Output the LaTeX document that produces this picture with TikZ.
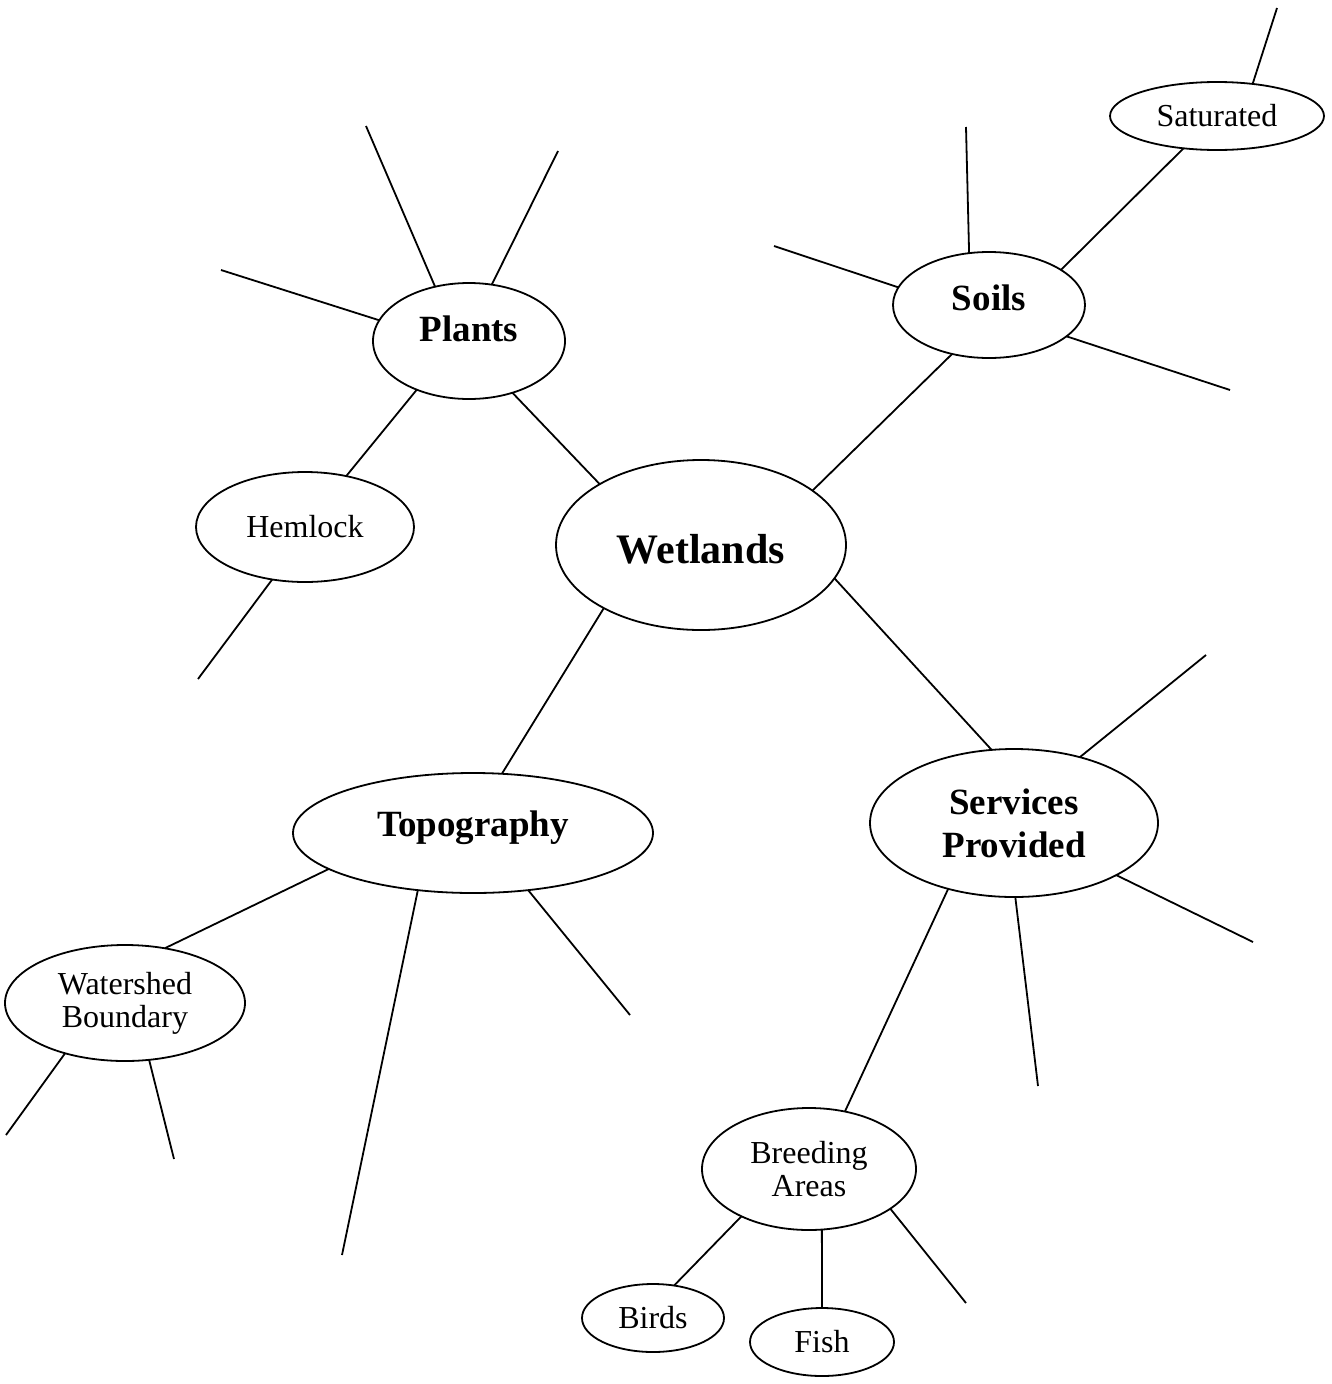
\documentclass[tikz,border=0pt]{standalone}
\usepackage{fontspec}
\setmainfont{Liberation Serif}
\usetikzlibrary{shapes.geometric}
\begin{document}
\begin{tikzpicture}[x=1pt,y=-1pt,
 bub/.style={draw, ellipse, line width=1.8pt, inner sep=0pt, outer sep=0pt, align=center},
 big/.style={bub, font=\fontsize{37}{43}\selectfont\bfseries},
 small/.style={bub, font=\fontsize{32}{33}\selectfont},
 con/.style={line width=1.8pt}]
\useasboundingbox (0,0) rectangle (1331,1384);
% nodes
\node[bub, font=\fontsize{42}{48}\selectfont\bfseries, minimum width=290pt, minimum height=170pt, text height=36pt, text depth=0pt] (wet) at (701,545) {Wetlands};
\node[big, minimum width=192pt, minimum height=116pt, text height=25pt, text depth=25pt] (plants) at (469,341) {Plants};
\node[big, minimum width=192pt, minimum height=106pt, text height=25pt, text depth=15pt] (soils) at (989,305) {Soils};
\node[small, minimum width=214pt, minimum height=68pt] (sat) at (1217,116) {Saturated};
\node[small, minimum width=218pt, minimum height=110pt] (hem) at (305,527) {Hemlock};
\node[big, minimum width=360pt, minimum height=120pt, text height=26pt, text depth=20pt] (topo) at (473,833) {Topography};
\node[big, minimum width=288pt, minimum height=148pt] (serv) at (1014,823) {Services\\Provided};
\node[small, minimum width=240pt, minimum height=116pt] (water) at (125,1003) {Watershed\\Boundary};
\node[small, minimum width=214pt, minimum height=122pt] (breed) at (809,1169) {Breeding\\Areas};
\node[small, minimum width=142pt, minimum height=68pt] (birds) at (653,1318) {Birds};
\node[small, minimum width=144pt, minimum height=68pt] (fish) at (822,1342) {Fish};
% connectors between nodes
\draw[con] (plants.-50) -- (wet.149);
\draw[con] (soils.-127) -- (wet.26);
\draw[con] (wet.213) -- (topo.64);
\draw[con] (wet.-14) -- (serv.107);
\draw[con] (plants.-137) -- (hem.51);
\draw[con] (soils.26) -- (sat.-136);
\draw[con] (topo.-166) -- (water.54);
\draw[con] (serv.-135) -- (breed.58);
\draw[con] (breed.-145) -- (birds.57);
\draw[con] (breed.-78) -- (fish.90);
% free ends
\coordinate (p1) at (366,126);
\coordinate (p2) at (558,151);
\coordinate (p3) at (221,270);
\coordinate (h1) at (198,679);
\coordinate (s1) at (966,127);
\coordinate (s2) at (774,246);
\coordinate (s3) at (1230,390);
\coordinate (sa1) at (1277,8);
\coordinate (w1) at (6,1135);
\coordinate (w2) at (174,1159);
\coordinate (t1) at (342,1255);
\coordinate (t2) at (630,1015);
\coordinate (v1) at (1206,655);
\coordinate (v2) at (1253,942);
\coordinate (v3) at (1038,1086);
\coordinate (b1) at (966,1303);
\draw[con] (plants.122) -- (p1);
\draw[con] (plants.68) -- (p2);
\draw[con] (plants.167) -- (p3);
\draw[con] (hem.-122) -- (h1);
\draw[con] (soils.111) -- (s1);
\draw[con] (soils.169) -- (s2);
\draw[con] (soils.-22) -- (s3);
\draw[con] (sat.42) -- (sa1);
\draw[con] (water.-140) -- (w1);
\draw[con] (water.-67) -- (w2);
\draw[con] (topo.-134) -- (t1);
\draw[con] (topo.-46) -- (t2);
\draw[con] (serv.45) -- (v1);
\draw[con] (serv.-27) -- (v2);
\draw[con] (serv.-89) -- (v3);
\draw[con] (breed.-26) -- (b1);
\end{tikzpicture}
\end{document}
